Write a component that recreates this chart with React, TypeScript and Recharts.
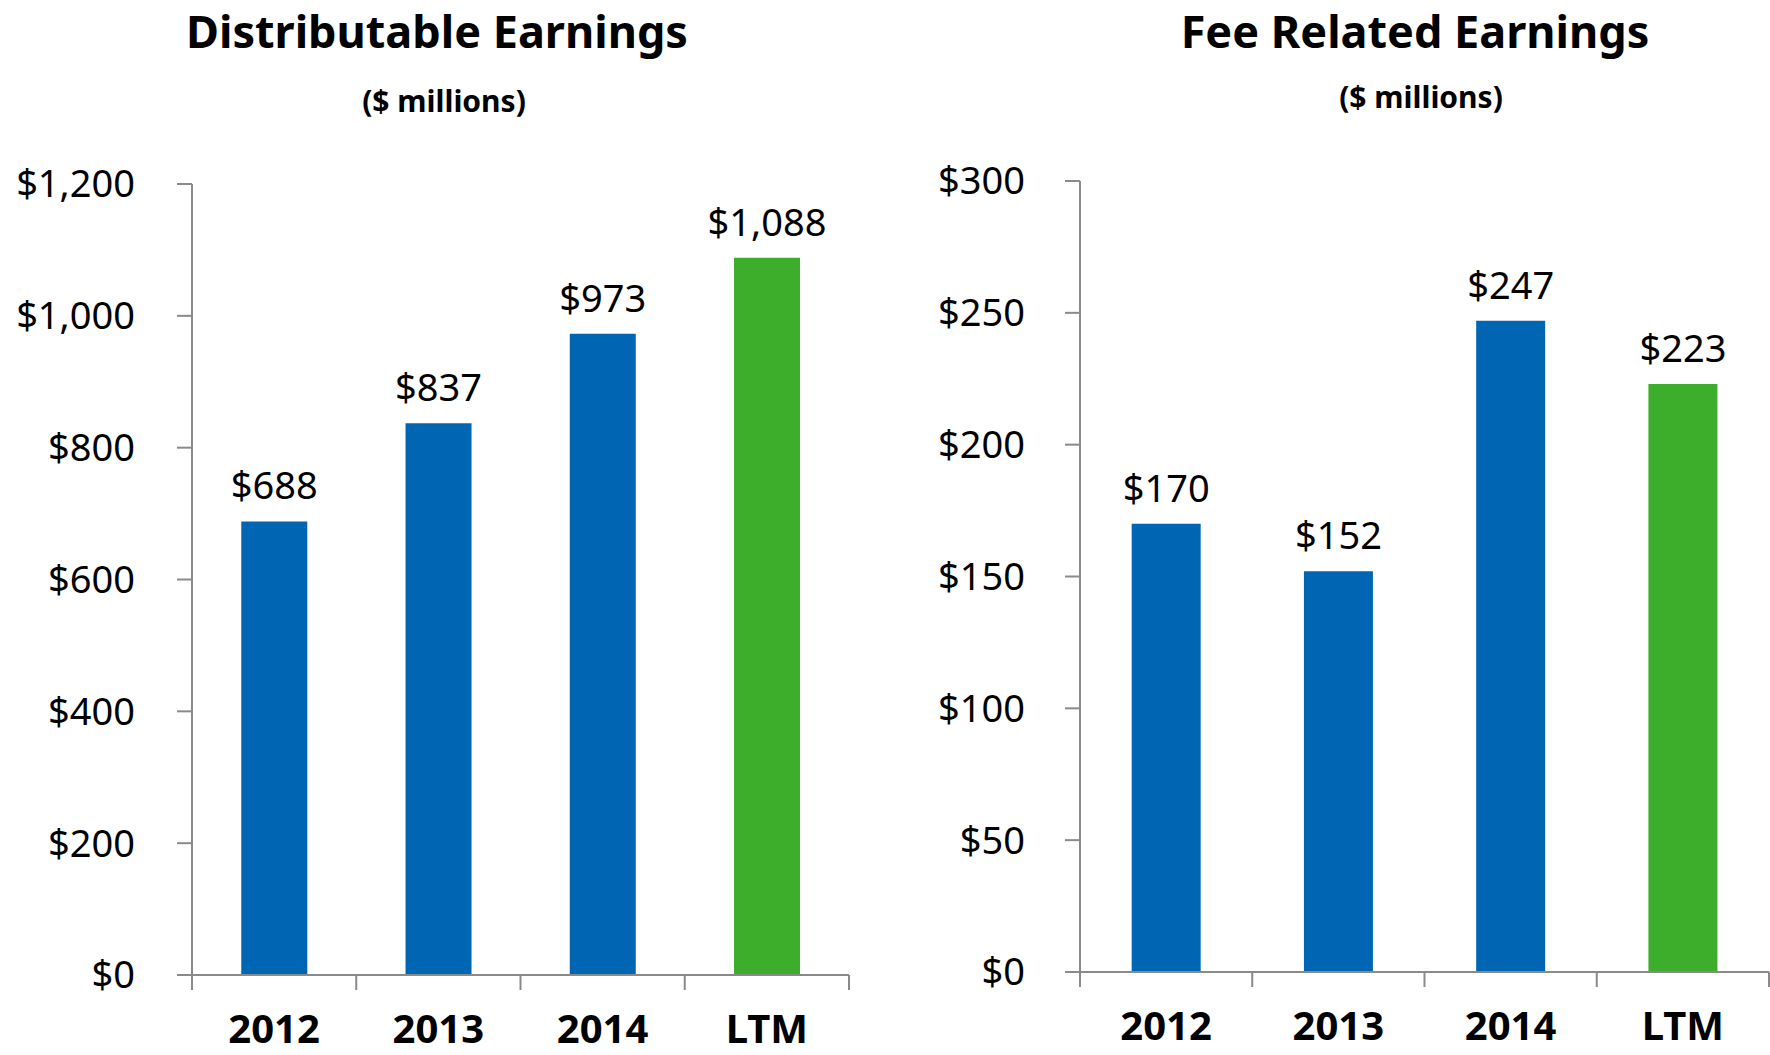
import { BarChart, Bar, XAxis, YAxis, LabelList, Cell } from 'recharts';

const categories = ['2012', '2013', '2014', 'LTM'];
const distributableEarnings = [688, 837, 973, 1088];
const feeRelatedEarnings = [170, 152, 247, 223];
const distributableTicks = [0, 200, 400, 600, 800, 1000, 1200];
const feeTicks = [0, 50, 100, 150, 200, 250, 300];

const BLUE = '#0066B3';
const GREEN = '#3DAE2B';
const AXIS = '#8a8a8a';
const FONT = '"Noto Sans", "Open Sans", sans-serif';

const money = (v: number) => '$' + v.toLocaleString('en-US');

function buildRows(values: number[]) {
  return categories.map((name, i) => ({ name, value: values[i] }));
}

// category labels plus tick marks at the category boundaries
function CategoryTick(props: any) {
  const { x, y, payload, index, band } = props;
  const half = payload && payload.offset ? payload.offset : band / 2;
  return (
    <g>
      <line x1={x - half} x2={x - half} y1={y} y2={y + 15} stroke={AXIS} strokeWidth={2} />
      {index === categories.length - 1 && (
        <line x1={x + half} x2={x + half} y1={y} y2={y + 15} stroke={AXIS} strokeWidth={2} />
      )}
      <text
        x={x}
        y={y + 68}
        textAnchor="middle"
        fontFamily={FONT}
        fontWeight={700}
        fontSize={40}
        fill="#000"
      >
        {payload.value}
      </text>
    </g>
  );
}

interface PanelProps {
  values: number[];
  ticks: number[];
  width: number;
  height: number;
  margin: { top: number; right: number; bottom: number; left: number };
  yWidth: number;
  xHeight: number;
  tickMargin: number;
}

function Panel({ values, ticks, width, height, margin, yWidth, xHeight, tickMargin }: PanelProps) {
  const rows = buildRows(values);
  const band = (width - margin.left - margin.right - yWidth) / categories.length;
  return (
    <BarChart
      width={width}
      height={height}
      data={rows}
      margin={margin}
      barCategoryGap="30%"
    >
      <XAxis
        dataKey="name"
        height={xHeight}
        axisLine={{ stroke: AXIS, strokeWidth: 2 }}
        tickLine={false}
        tickSize={0}
        tickMargin={0}
        interval={0}
        tick={<CategoryTick band={band} />}
      />
      <YAxis
        width={yWidth}
        domain={[ticks[0], ticks[ticks.length - 1]]}
        ticks={ticks}
        interval={0}
        tickFormatter={money}
        axisLine={{ stroke: AXIS, strokeWidth: 2 }}
        tickLine={{ stroke: AXIS, strokeWidth: 2 }}
        tickSize={15}
        tickMargin={tickMargin}
        tick={{ fill: '#000', fontSize: 38, fontFamily: FONT }}
      />
      <Bar dataKey="value" isAnimationActive={false}>
        {rows.map((r) => (
          <Cell key={r.name} fill={r.name === 'LTM' ? GREEN : BLUE} />
        ))}
        <LabelList
          dataKey="value"
          position="top"
          offset={22}
          formatter={(v: any) => money(Number(v))}
          style={{ fill: '#000', fontSize: 38, fontFamily: FONT }}
        />
      </Bar>
    </BarChart>
  );
}

const titleStyle: React.CSSProperties = {
  position: 'absolute',
  width: 700,
  textAlign: 'center',
  fontFamily: FONT,
  fontWeight: 700,
  lineHeight: 'normal',
  color: '#000',
  whiteSpace: 'nowrap',
};

export default function App() {
  return (
    <div style={{ position: 'absolute', left: 0, top: 0, width: 1770, height: 1055, background: '#fff', overflow: 'hidden' }}>
      <div style={{ ...titleStyle, left: 437 - 350, top: 0, fontSize: 45 }}>Distributable Earnings</div>
      <div style={{ ...titleStyle, left: 444 - 350, top: 80, fontSize: 30 }}>($ millions)</div>
      <div style={{ ...titleStyle, left: 1415 - 350, top: 0, fontSize: 45 }}>Fee Related Earnings</div>
      <div style={{ ...titleStyle, left: 1421 - 350, top: 76, fontSize: 30 }}>($ millions)</div>

      <div style={{ position: 'absolute', left: 0, top: 0 }}>
        <Panel
          values={distributableEarnings}
          ticks={distributableTicks}
          width={880}
          height={1055}
          margin={{ top: 184, right: 31, bottom: 0, left: 0 }}
          yWidth={192}
          xHeight={80}
          tickMargin={42}
        />
      </div>
      <div style={{ position: 'absolute', left: 880, top: 0 }}>
        <Panel
          values={feeRelatedEarnings}
          ticks={feeTicks}
          width={890}
          height={1055}
          margin={{ top: 181, right: 1, bottom: 0, left: 0 }}
          yWidth={200}
          xHeight={83}
          tickMargin={40}
        />
      </div>
    </div>
  );
}
